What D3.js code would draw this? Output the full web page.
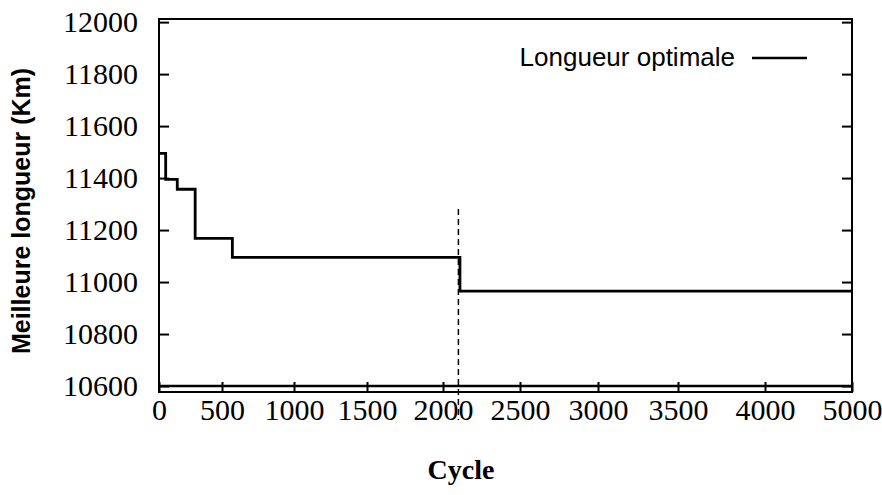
<!DOCTYPE html>
<html>
<head>
<meta charset="utf-8">
<script src="https://d3js.org/d3.v7.min.js"></script>
<style>
	body { margin: 0; background: #fff; }
	.axis line { stroke: #000; stroke-width: 2px; }
	.axis path { display: none; }
</style>
</head>
<body>
<script>
//Begin a self-executing anonymous function to move to local scope
(function(){

//chart data
var xTickValues = [0, 500, 1000, 1500, 2000, 2500, 3000, 3500, 4000, 5000]; //x axis ticks (no 4500 in the original)
var yTickValues = [10600, 10800, 11000, 11200, 11400, 11600, 11800, 12000];
var bestCycles = [0, 53, 145, 287, 572, 2110, 5000]; //cycle where the best length changes
var bestLengths = [11495, 11395, 11357, 11168, 11095, 10965, 10965]; //best length from that cycle on
var optimalCycles = [0, 5000];
var optimalLengths = [10600, 10600];
var markerCycle = 2100; //dashed vertical marker
var legendLabel = "Longueur optimale";
var xTitle = "Cycle";
var yTitle = "Meilleure longueur (Km)";

//frame dimensions
var width = 882,
	height = 495,
	left = 159,
	right = 852,
	top = 19,
	bottom = 392;

var serif = "'Liberation Serif', 'Times New Roman', serif",
	sans = "'Liberation Sans', Arial, sans-serif";

//the original x axis is not evenly spaced, so the scale runs through each tick
var xTickPixels = [159, 222, 294, 367, 443, 520, 598, 678, 765, 852];

window.onload = setChart();

//style the tick labels of an axis group
function styleLabels(g){
	g.selectAll("text")
		.style("font-family", serif)
		.style("font-size", "30px")
		.style("fill", "#000");
};

function setChart(){
	var svg = d3.select("body")
		.append("svg")
		.attr("width", width)
		.attr("height", height);

	var x = d3.scaleLinear()
		.domain(xTickValues)
		.range(xTickPixels);

	var y = d3.scaleLinear()
		.domain([10577, 12012])
		.range([bottom, top]);

	//plot frame
	svg.append("rect")
		.attr("x", left)
		.attr("y", top)
		.attr("width", right - left)
		.attr("height", bottom - top)
		.style("fill", "none")
		.style("stroke", "#000")
		.style("stroke-width", 2);

	//left axis, ticks pointing inside
	svg.append("g")
		.attr("class", "axis")
		.attr("transform", "translate(" + left + ",0)")
		.call(d3.axisLeft(y).tickValues(yTickValues).tickSize(-10).tickPadding(21).tickFormat(d3.format("d")))
		.call(styleLabels);

	//right mirror ticks
	svg.append("g")
		.attr("class", "axis")
		.attr("transform", "translate(" + right + ",0)")
		.call(d3.axisRight(y).tickValues(yTickValues).tickSize(-10).tickFormat(""));

	//bottom axis
	svg.append("g")
		.attr("class", "axis")
		.attr("transform", "translate(0," + bottom + ")")
		.call(d3.axisBottom(x).tickValues(xTickValues).tickSize(-10).tickPadding(7).tickFormat(d3.format("d")))
		.call(styleLabels);

	//optimal length line
	var line = d3.line()
		.x(function(d){ return x(d[0]); })
		.y(function(d){ return y(d[1]); });

	svg.append("path")
		.datum(d3.zip(optimalCycles, optimalLengths))
		.attr("d", line)
		.style("fill", "none")
		.style("stroke", "#000")
		.style("stroke-width", 2.6);

	//best length step line
	var stepLine = d3.line()
		.x(function(d){ return x(d[0]); })
		.y(function(d){ return y(d[1]); })
		.curve(d3.curveStepAfter);

	svg.append("path")
		.datum(d3.zip(bestCycles, bestLengths))
		.attr("d", stepLine)
		.style("fill", "none")
		.style("stroke", "#000")
		.style("stroke-width", 2.8);

	//dashed marker
	svg.append("line")
		.attr("x1", x(markerCycle))
		.attr("x2", x(markerCycle))
		.attr("y1", 209)
		.attr("y2", 420)
		.style("stroke", "#000")
		.style("stroke-width", 1.5)
		.style("stroke-dasharray", "6,4");

	//legend
	svg.append("text")
		.attr("x", right - 117)
		.attr("y", 66)
		.attr("text-anchor", "end")
		.style("font-family", sans)
		.style("font-size", "26px")
		.text(legendLabel);

	svg.append("line")
		.attr("x1", right - 100)
		.attr("x2", right - 45)
		.attr("y1", 58)
		.attr("y2", 58)
		.style("stroke", "#000")
		.style("stroke-width", 2.7);

	//axis titles
	svg.append("text")
		.attr("x", 461)
		.attr("y", 479)
		.attr("text-anchor", "middle")
		.style("font-family", serif)
		.style("font-weight", "bold")
		.style("font-size", "28px")
		.text(xTitle);

	svg.append("text")
		.attr("transform", "translate(30,211) rotate(-90)")
		.attr("text-anchor", "middle")
		.style("font-family", sans)
		.style("font-weight", "bold")
		.style("font-size", "25px")
		.text(yTitle);
};

})();
</script>
</body>
</html>
